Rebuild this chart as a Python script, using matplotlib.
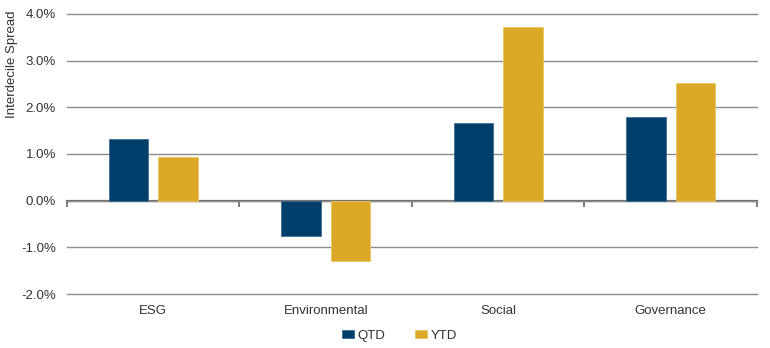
import matplotlib
matplotlib.use("Agg")
import matplotlib.pyplot as plt
import matplotlib.ticker as mticker
import numpy as np

categories = ["ESG", "Environmental", "Social", "Governance"]
qtd = [1.32, -0.76, 1.67, 1.80]
ytd = [0.93, -1.30, 3.72, 2.52]

plt.rcParams['font.family'] = ['Liberation Sans', 'DejaVu Sans']

navy = "#003F6B"
gold = "#DBA827"
text_col = "#333333"
fs = 9.5

fig = plt.figure(figsize=(7.7, 3.48), dpi=100)
ax = fig.add_axes([0.087, 0.155, 0.896, 0.805])

x = np.arange(len(categories))
w = 0.228
off = 0.143
ax.bar(x - off, qtd, w, color=navy, edgecolor="#3F6D93", linewidth=0.6, label="QTD", zorder=3)
ax.bar(x + off, ytd, w, color=gold, edgecolor="#EAC45E", linewidth=0.6, label="YTD", zorder=3)

ax.set_xlim(-0.5, len(categories) - 0.5)
ax.set_ylim(-2, 4)
ax.yaxis.set_major_locator(mticker.MultipleLocator(1))
ax.yaxis.set_major_formatter(mticker.FuncFormatter(lambda v, p: f"{v:.1f}%"))
ax.grid(axis="y", color="#8C8C8C", linewidth=1.0, zorder=0)
ax.set_axisbelow(True)
for gl in ax.get_ygridlines():
    gl.set_clip_on(False)

for s in ax.spines.values():
    s.set_visible(False)

ax.tick_params(axis="y", length=0, labelsize=fs, labelcolor=text_col, pad=8)
ax.set_xticks(x)
ax.set_xticklabels(categories)
ax.tick_params(axis="x", length=0, labelsize=fs, labelcolor=text_col, pad=8)

# zero line with category divider ticks
sec = ax.secondary_xaxis(0, transform=ax.transData)
sec.set_xticks(np.arange(len(categories) + 1) - 0.5)
sec.set_xticklabels([])
sec.tick_params(axis="x", direction="out", length=4, width=1.2, color="#666666")
sec.spines["bottom"].set_color("#6E6E6E")
sec.spines["bottom"].set_linewidth(1.6)

ax.set_ylabel("Interdecile Spread", fontsize=fs, color=text_col)
ax.yaxis.set_label_coords(-0.071, 0.82)

leg = ax.legend(loc="center", bbox_to_anchor=(0.482, -0.148), ncol=2, frameon=False,
                fontsize=fs, handlelength=0.9, handleheight=0.6, handletextpad=0.25,
                columnspacing=2.3)
for t in leg.get_texts():
    t.set_color(text_col)

fig.savefig("out.png", dpi=100)
